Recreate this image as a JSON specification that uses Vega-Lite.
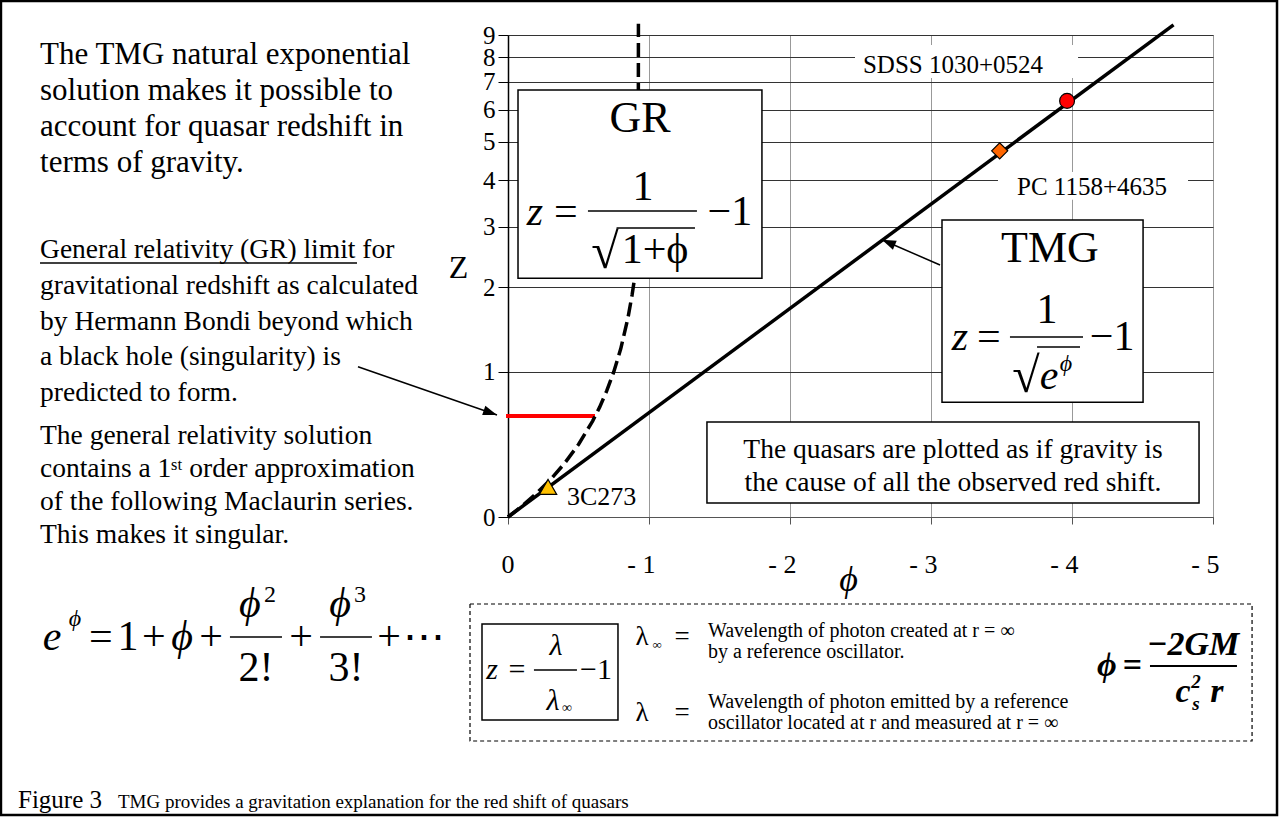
{
  "$schema": "https://vega.github.io/schema/vega-lite/v6.json",
  "width": 705,
  "height": 482,
  "autosize": {"type": "none"},
  "padding": {"left": 508, "top": 35, "right": 66, "bottom": 300},
  "background": "white",
  "config": {
    "font": "Liberation Serif",
    "text": {"font": "Liberation Serif"},
    "axis": {"labelFont": "Liberation Serif", "titleFont": "Liberation Serif"},
    "view": {"stroke": "#888", "strokeWidth": 1}
  },
  "encoding": {
    "x": {
      "field": "phi", "type": "quantitative",
      "scale": {"domain": [0, 5], "nice": false, "zero": false},
      "axis": {
        "values": [0, 1, 2, 3, 4, 5],
        "labelExpr": "datum.value == 0 ? '0' : '- ' + datum.value",
        "labelFont": "Liberation Serif", "labelFontSize": 26, "labelColor": "black",
        "labelPadding": 27, "labelAlign": "right", "labelOffset": 6, "labelFlush": false,
        "tickSize": 7, "tickColor": "#555", "domainColor": "#555",
        "gridColor": "#999", "gridOpacity": 1,
        "title": "ϕ", "titleFont": "Liberation Serif", "titleFontStyle": "italic",
        "titleFontSize": 36, "titleFontWeight": "normal", "titleColor": "black",
        "titleX": 340, "titleY": 62, "titleBaseline": "middle", "titleAlign": "center"
      }
    },
    "y": {
      "field": "z", "type": "quantitative",
      "scale": {"type": "symlog", "constant": 1, "domain": [0, 9], "nice": false, "zero": false},
      "axis": {
        "values": [0, 1, 2, 3, 4, 5, 6, 7, 8, 9],
        "labelFont": "Liberation Serif", "labelFontSize": 25, "labelColor": "black",
        "labelPadding": 3, "labelOverlap": false, "labelFlush": false,
        "tickSize": 10, "tickColor": "black", "domainColor": "black", "domainWidth": 1.5,
        "gridColor": "#333", "gridOpacity": 1,
        "title": "Z", "titleFont": "Liberation Serif", "titleFontSize": 32,
        "titleFontWeight": "normal", "titleColor": "black", "titleAngle": 0,
        "titleX": -50, "titleY": 232, "titleAlign": "center", "titleBaseline": "middle"
      }
    }
  },
  "layer": [
    {
      "data": {"values": [{"phi": -3.596, "z": 10.76, "phi2": 5.454, "z2": -3.152}]},
      "mark": {"type": "rect", "filled": false, "stroke": "black", "strokeWidth": 2.5},
      "encoding": {"x2": {"field": "phi2"}, "y2": {"field": "z2"}}
    },
    {
      "data": {"values": [
        {"phi": 2.461, "phi2": 4.043, "z": 8.53, "z2": 7.14},
        {"phi": 3.475, "phi2": 4.823, "z": 4.20, "z2": 3.55}
      ]},
      "mark": {"type": "rect", "fill": "white", "strokeWidth": 0},
      "encoding": {"x2": {"field": "phi2"}, "y2": {"field": "z2"}}
    },
    {
      "data": {"values": [{"phi": -0.014, "phi2": 0.617, "z": 0.62}]},
      "mark": {"type": "rule", "color": "#ff0000", "strokeWidth": 4},
      "encoding": {"x2": {"field": "phi2"}}
    },
    {
      "data": {"values": [
        {"phi": 0, "z": 0}, {"phi": 0.1, "z": 0.054}, {"phi": 0.2, "z": 0.118},
        {"phi": 0.3, "z": 0.195}, {"phi": 0.4, "z": 0.291}, {"phi": 0.5, "z": 0.414},
        {"phi": 0.6, "z": 0.581}, {"phi": 0.65, "z": 0.69}, {"phi": 0.7, "z": 0.826},
        {"phi": 0.75, "z": 1.0}, {"phi": 0.8, "z": 1.236}, {"phi": 0.85, "z": 1.582},
        {"phi": 0.88, "z": 1.887}, {"phi": 0.9, "z": 2.16}, {"phi": 0.912, "z": 2.45},
        {"phi": 0.919, "z": 2.8}, {"phi": 0.922, "z": 3.3}, {"phi": 0.924, "z": 5.0},
        {"phi": 0.925, "z": 9.55}
      ]},
      "mark": {"type": "line", "color": "black", "strokeWidth": 3.5, "strokeDash": [14, 6]},
      "encoding": {}
    },
    {
      "data": {"values": [{"phi": 0, "z": 0}, {"phi": 4.72, "z": 9.5}]},
      "mark": {"type": "line", "color": "black", "strokeWidth": 3.5},
      "encoding": {}
    },
    {
      "data": {"values": [
        {"name": "3C273", "phi": 0.284, "z": 0.155},
        {"name": "PC 1158+4635", "phi": 3.487, "z": 4.75},
        {"name": "SDSS 1030+0524", "phi": 3.965, "z": 6.3}
      ]},
      "mark": {"type": "point", "filled": true, "stroke": "black", "strokeWidth": 1.2, "opacity": 1},
      "encoding": {
        "color": {"field": "name", "type": "nominal", "legend": null,
          "scale": {"domain": ["3C273", "PC 1158+4635", "SDSS 1030+0524"], "range": ["#ffc000", "#ff6600", "#ff0000"]}},
        "shape": {"field": "name", "type": "nominal", "legend": null,
          "scale": {"domain": ["3C273", "PC 1158+4635", "SDSS 1030+0524"], "range": ["triangle-up", "diamond", "circle"]}},
        "size": {"field": "name", "type": "ordinal", "legend": null,
          "scale": {"domain": ["3C273", "PC 1158+4635", "SDSS 1030+0524"], "range": [300, 220, 290]}}
      }
    },
    {
      "data": {"values": [{"phi": 0.418, "z": 0.1, "t": "3C273"}]},
      "mark": {"type": "text", "font": "Liberation Serif", "align": "left", "baseline": "middle", "fontSize": 26, "color": "black"},
      "encoding": {"text": {"field": "t"}}
    },
    {
      "data": {"values": [
        {"phi": 3.156, "z": 7.66, "t": "SDSS 1030+0524"},
        {"phi": 4.142, "z": 3.84, "t": "PC 1158+4635"}
      ]},
      "mark": {"type": "text", "font": "Liberation Serif", "align": "center", "baseline": "middle", "fontSize": 25, "color": "black"},
      "encoding": {"text": {"field": "t"}}
    },
    {
      "data": {"values": [
        {"phi": 0.071, "phi2": 1.801, "z": 6.69, "z2": 2.13},
        {"phi": 3.078, "phi2": 4.504, "z": 3.13, "z2": 0.73},
        {"phi": 1.411, "phi2": 4.901, "z": 0.574, "z2": 0.069}
      ]},
      "mark": {"type": "rect", "fill": "white", "stroke": "black", "strokeWidth": 1.5},
      "encoding": {"x2": {"field": "phi2"}, "y2": {"field": "z2"}}
    },
    {
      "data": {"values": [
        {"phi": 0.936, "z": 5.291, "t": "GR"},
        {"phi": 3.844, "z": 2.381, "t": "TMG"}
      ]},
      "mark": {"type": "text", "font": "Liberation Serif", "align": "center", "baseline": "alphabetic", "fontSize": 44, "color": "black"},
      "encoding": {"text": {"field": "t"}}
    },
    {
      "data": {"values": [
        {"phi": 0.191, "z": 3.034, "t": "z"},
        {"phi": 3.206, "z": 1.2207, "t": "z"},
        {"phi": 3.837, "z": 0.8432, "t": "e"},
        {"phi": -3.234, "z": -0.8877, "t": "e"},
        {"phi": -2.312, "z": -0.8877, "t": "ϕ"},
        {"phi": -1.83, "z": -0.6124, "t": "ϕ"},
        {"phi": -1.191, "z": -0.6124, "t": "ϕ"}
      ]},
      "mark": {"type": "text", "font": "Liberation Serif", "align": "center", "baseline": "alphabetic", "fontSize": 42, "fontStyle": "italic", "color": "black"},
      "encoding": {"text": {"field": "t"}}
    },
    {
      "data": {"values": [
        {"phi": 0.411, "z": 3.034, "t": "="},
        {"phi": 0.957, "z": 3.547, "t": "1"},
        {"phi": 1.043, "z": 2.365, "t": "1+ϕ"},
        {"phi": 1.574, "z": 3.034, "t": "−1"},
        {"phi": 3.411, "z": 1.2207, "t": "="},
        {"phi": 3.823, "z": 1.5263, "t": "1"},
        {"phi": 4.284, "z": 1.2207, "t": "−1"},
        {"phi": -2.887, "z": -0.8877, "t": "="},
        {"phi": -2.695, "z": -0.8877, "t": "1"},
        {"phi": -2.511, "z": -0.8877, "t": "+"},
        {"phi": -2.106, "z": -0.8877, "t": "+"},
        {"phi": -1.787, "z": -1.189, "t": "2!"},
        {"phi": -1.468, "z": -0.8877, "t": "+"},
        {"phi": -1.149, "z": -1.189, "t": "3!"},
        {"phi": -0.844, "z": -0.8877, "t": "+"},
        {"phi": -0.596, "z": -0.8877, "t": "⋯"}
      ]},
      "mark": {"type": "text", "font": "Liberation Serif", "align": "center", "baseline": "alphabetic", "fontSize": 42, "color": "black"},
      "encoding": {"text": {"field": "t"}}
    },
    {
      "data": {"values": [
        {"phi": 0.688, "z": 2.285, "t": "√"},
        {"phi": 3.674, "z": 0.8169, "t": "√"}
      ]},
      "mark": {"type": "text", "font": "Liberation Serif", "align": "center", "baseline": "alphabetic", "fontSize": 50, "color": "black"},
      "encoding": {"text": {"field": "t"}}
    },
    {
      "data": {"values": [
        {"phi": 3.957, "z": 1.0087, "t": "ϕ"},
        {"phi": -3.071, "z": -0.6832, "t": "ϕ"}
      ]},
      "mark": {"type": "text", "font": "Liberation Serif", "align": "center", "baseline": "alphabetic", "fontSize": 24, "fontStyle": "italic", "color": "black"},
      "encoding": {"text": {"field": "t"}}
    },
    {
      "data": {"values": [
        {"phi": -1.688, "z": -0.5008, "t": "2"},
        {"phi": -1.05, "z": -0.5008, "t": "3"}
      ]},
      "mark": {"type": "text", "font": "Liberation Serif", "align": "center", "baseline": "alphabetic", "fontSize": 24, "color": "black"},
      "encoding": {"text": {"field": "t"}}
    },
    {
      "data": {"values": [
        {"phi": 0.567, "phi2": 1.34, "z": 3.314},
        {"phi": 0.77, "phi2": 1.326, "z": 2.977},
        {"phi": 3.56, "phi2": 4.078, "z": 1.363},
        {"phi": 3.752, "phi2": 4.057, "z": 1.2527},
        {"phi": -1.972, "phi2": -1.603, "z": -0.7742},
        {"phi": -1.333, "phi2": -0.965, "z": -0.7742},
        {"phi": 0.184, "phi2": 0.489, "z": -1.077},
        {"phi": -3.319, "phi2": -1.071, "z": 2.365}
      ]},
      "mark": {"type": "rule", "color": "black", "strokeWidth": 1.6},
      "encoding": {"x2": {"field": "phi2"}}
    },
    {
      "data": {"values": [{"phi": 4.553, "phi2": 5.17, "z": -1.0377}]},
      "mark": {"type": "rule", "color": "black", "strokeWidth": 2.2},
      "encoding": {"x2": {"field": "phi2"}}
    },
    {
      "data": {"values": [
        {"phi": -3.319, "z": 7.71, "t": ["The TMG natural exponential", "solution makes it possible to", "account for quasar redshift in", "terms of gravity."]}
      ]},
      "mark": {"type": "text", "font": "Liberation Serif", "align": "left", "baseline": "alphabetic", "fontSize": 31, "lineHeight": 36, "color": "black"},
      "encoding": {"text": {"field": "t"}}
    },
    {
      "data": {"values": [
        {"phi": -3.319, "z": 2.446, "t": ["General relativity (GR) limit for", "gravitational redshift as calculated", "by Hermann Bondi beyond which", "a black hole (singularity) is", "predicted to form."]}
      ]},
      "mark": {"type": "text", "font": "Liberation Serif", "align": "left", "baseline": "alphabetic", "fontSize": 27.5, "lineHeight": 35.75, "color": "black"},
      "encoding": {"text": {"field": "t"}}
    },
    {
      "data": {"values": [
        {"phi": -3.319, "z": 0.417, "t": ["The general relativity solution", "contains a 1ˢᵗ order approximation", "of the following Maclaurin series.", "This makes it singular."]}
      ]},
      "mark": {"type": "text", "font": "Liberation Serif", "align": "left", "baseline": "alphabetic", "fontSize": 27.5, "lineHeight": 33, "color": "black"},
      "encoding": {"text": {"field": "t"}}
    },
    {
      "data": {"values": [
        {"phi": 3.156, "z": 0.3256, "t": ["The quasars are plotted as if gravity is", "the cause of all the observed red shift."]}
      ]},
      "mark": {"type": "text", "font": "Liberation Serif", "align": "center", "baseline": "alphabetic", "fontSize": 27.5, "lineHeight": 33, "color": "black"},
      "encoding": {"text": {"field": "t"}}
    },
    {
      "data": {"values": [
        {"phi": -1.064, "z": 1.05, "phi2": -0.078, "z2": 0.628},
        {"phi": 3.064, "z": 2.333, "phi2": 2.652, "z2": 2.76}
      ]},
      "mark": {"type": "rule", "color": "black", "strokeWidth": 1.5},
      "encoding": {"x2": {"field": "phi2"}, "y2": {"field": "z2"}}
    },
    {
      "data": {"values": [{"phi": -0.078, "z": 0.628}]},
      "mark": {"type": "point", "shape": "M0,0L0.35,1L-0.35,1Z", "size": 784, "angle": 109, "filled": true, "color": "black", "opacity": 1},
      "encoding": {}
    },
    {
      "data": {"values": [{"phi": 2.652, "z": 2.76}]},
      "mark": {"type": "point", "shape": "M0,0L0.35,1L-0.35,1Z", "size": 784, "angle": 293, "filled": true, "color": "black", "opacity": 1},
      "encoding": {}
    },
    {
      "data": {"values": [
        {"phi": -0.2695, "phi2": 5.277, "z": -0.5153, "z2": -1.9157}
      ]},
      "mark": {"type": "rect", "filled": false, "stroke": "black", "strokeWidth": 1.2, "strokeDash": [4, 3]},
      "encoding": {"x2": {"field": "phi2"}, "y2": {"field": "z2"}}
    },
    {
      "data": {"values": [
        {"phi": -0.1844, "phi2": 0.78, "z": -0.6673, "z2": -1.6374}
      ]},
      "mark": {"type": "rect", "filled": false, "stroke": "black", "strokeWidth": 1.5},
      "encoding": {"x2": {"field": "phi2"}, "y2": {"field": "z2"}}
    },
    {
      "data": {"values": [
        {"phi": -0.113, "z": -1.168, "t": "z"},
        {"phi": 0.34, "z": -0.9336, "t": "λ"},
        {"phi": 0.319, "z": -1.5143, "t": "λ"}
      ]},
      "mark": {"type": "text", "font": "Liberation Serif", "align": "center", "baseline": "alphabetic", "fontSize": 30, "fontStyle": "italic", "color": "black"},
      "encoding": {"text": {"field": "t"}}
    },
    {
      "data": {"values": [
        {"phi": 0.064, "z": -1.168, "t": "="},
        {"phi": 0.624, "z": -1.168, "t": "−1"}
      ]},
      "mark": {"type": "text", "font": "Liberation Serif", "align": "center", "baseline": "alphabetic", "fontSize": 30, "color": "black"},
      "encoding": {"text": {"field": "t"}}
    },
    {
      "data": {"values": [{"phi": 0.418, "z": -1.5386, "t": "∞"}]},
      "mark": {"type": "text", "font": "Liberation Serif", "align": "center", "baseline": "alphabetic", "fontSize": 14, "color": "black"},
      "encoding": {"text": {"field": "t"}}
    },
    {
      "data": {"values": [
        {"phi": 0.95, "z": -0.8432, "t": "λ"},
        {"phi": 1.234, "z": -0.8432, "t": "="},
        {"phi": 0.95, "z": -1.6498, "t": "λ"},
        {"phi": 1.234, "z": -1.6498, "t": "="}
      ]},
      "mark": {"type": "text", "font": "Liberation Serif", "align": "center", "baseline": "alphabetic", "fontSize": 27, "color": "black"},
      "encoding": {"text": {"field": "t"}}
    },
    {
      "data": {"values": [{"phi": 1.057, "z": -0.8787, "t": "∞"}]},
      "mark": {"type": "text", "font": "Liberation Serif", "align": "center", "baseline": "alphabetic", "fontSize": 13, "color": "black"},
      "encoding": {"text": {"field": "t"}}
    },
    {
      "data": {"values": [
        {"phi": 1.418, "z": -0.7742, "t": "Wavelength of photon created at r = ∞"},
        {"phi": 1.418, "z": -0.9613, "t": "by a reference oscillator."},
        {"phi": 1.418, "z": -1.4904, "t": "Wavelength of photon emitted by a reference"},
        {"phi": 1.418, "z": -1.7532, "t": "oscillator located at r and measured at r = ∞"}
      ]},
      "mark": {"type": "text", "font": "Liberation Serif", "align": "left", "baseline": "alphabetic", "fontSize": 20, "color": "black"},
      "encoding": {"text": {"field": "t"}}
    },
    {
      "data": {"values": [
        {"phi": 4.248, "z": -1.1374, "t": "ϕ"},
        {"phi": 4.426, "z": -1.1374, "t": "="},
        {"phi": 4.858, "z": -0.9336, "t": "−2GM"},
        {"phi": 4.787, "z": -1.42, "t": "c"},
        {"phi": 5.028, "z": -1.42, "t": "r"}
      ]},
      "mark": {"type": "text", "font": "Liberation Serif", "align": "center", "baseline": "alphabetic", "fontSize": 34, "fontStyle": "italic", "fontWeight": "bold", "color": "black"},
      "encoding": {"text": {"field": "t"}}
    },
    {
      "data": {"values": [
        {"phi": 4.879, "z": -1.2634, "t": "2"},
        {"phi": 4.879, "z": -1.5143, "t": "s"}
      ]},
      "mark": {"type": "text", "font": "Liberation Serif", "align": "center", "baseline": "alphabetic", "fontSize": 19, "fontStyle": "italic", "fontWeight": "bold", "color": "black"},
      "encoding": {"text": {"field": "t"}}
    },
    {
      "data": {"values": [{"phi": -3.475, "z": -3.0153, "t": "Figure 3"}]},
      "mark": {"type": "text", "font": "Liberation Serif", "align": "left", "baseline": "alphabetic", "fontSize": 25, "color": "black"},
      "encoding": {"text": {"field": "t"}}
    },
    {
      "data": {"values": [{"phi": -2.766, "z": -3.0153, "t": "TMG provides a gravitation explanation for the red shift of quasars"}]},
      "mark": {"type": "text", "font": "Liberation Serif", "align": "left", "baseline": "alphabetic", "fontSize": 19, "color": "black"},
      "encoding": {"text": {"field": "t"}}
    }
  ]
}
